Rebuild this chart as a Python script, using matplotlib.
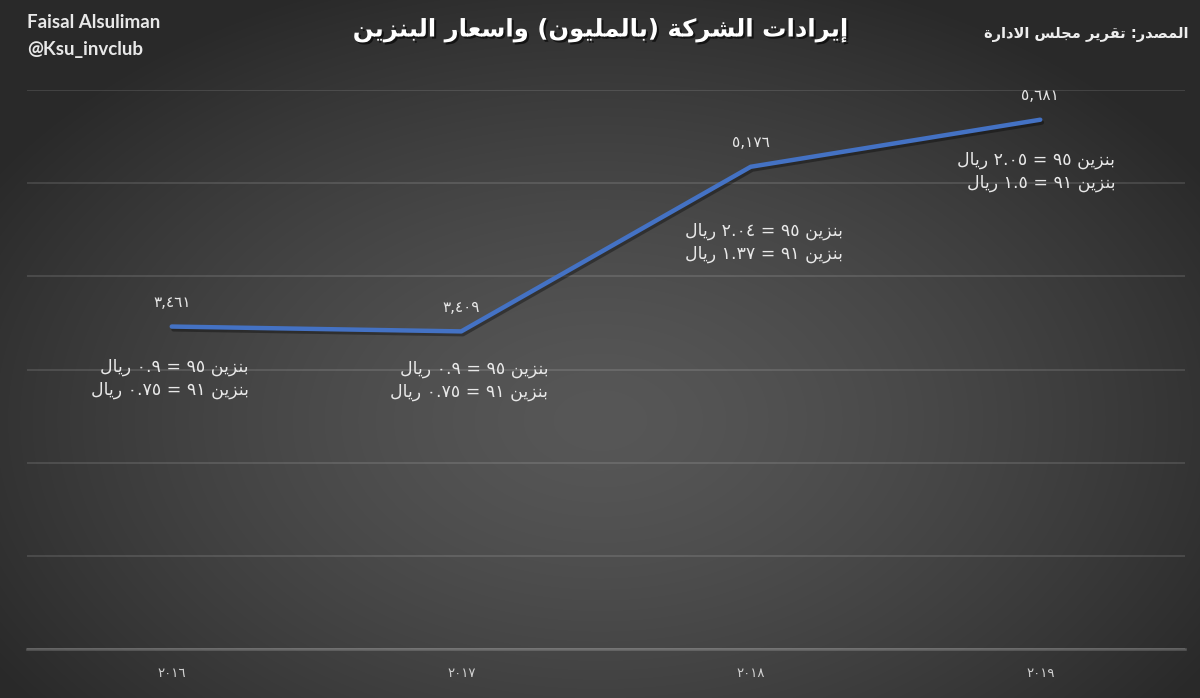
import numpy as np
import matplotlib
matplotlib.use('Agg')
import matplotlib.pyplot as plt
import matplotlib.patheffects as pe

# ---------------- data ----------------
years = ['٢٠١٦', '٢٠١٧', '٢٠١٨', '٢٠١٩']
revenue = [3461, 3409, 5176, 5681]
revenue_labels = ['٣,٤٦١', '٣,٤٠٩', '٥,١٧٦', '٥,٦٨١']
petrol95 = ['٠.٩', '٠.٩', '٢.٠٤', '٢.٠٥']
petrol91 = ['٠.٧٥', '٠.٧٥', '١.٣٧', '١.٥']
title = 'إيرادات الشركة (بالمليون) واسعار البنزين'
source = 'المصدر: تقرير مجلس الادارة'
author = ['Faisal Alsuliman', '@Ksu_invclub']

# ---------------- minimal Arabic shaping + RTL ordering ----------------
FORMS = {
    'ا': ('\uFE8D', '\uFE8E', None, None),
    'إ': ('\uFE87', '\uFE88', None, None),
    'ب': ('\uFE8F', '\uFE90', '\uFE91', '\uFE92'),
    'ة': ('\uFE93', '\uFE94', None, None),
    'ت': ('\uFE95', '\uFE96', '\uFE97', '\uFE98'),
    'ج': ('\uFE9D', '\uFE9E', '\uFE9F', '\uFEA0'),
    'د': ('\uFEA9', '\uFEAA', None, None),
    'ر': ('\uFEAD', '\uFEAE', None, None),
    'ز': ('\uFEAF', '\uFEB0', None, None),
    'س': ('\uFEB1', '\uFEB2', '\uFEB3', '\uFEB4'),
    'ش': ('\uFEB5', '\uFEB6', '\uFEB7', '\uFEB8'),
    'ص': ('\uFEB9', '\uFEBA', '\uFEBB', '\uFEBC'),
    'ع': ('\uFEC9', '\uFECA', '\uFECB', '\uFECC'),
    'ق': ('\uFED5', '\uFED6', '\uFED7', '\uFED8'),
    'ك': ('\uFED9', '\uFEDA', '\uFEDB', '\uFEDC'),
    'ل': ('\uFEDD', '\uFEDE', '\uFEDF', '\uFEE0'),
    'م': ('\uFEE1', '\uFEE2', '\uFEE3', '\uFEE4'),
    'ن': ('\uFEE5', '\uFEE6', '\uFEE7', '\uFEE8'),
    'و': ('\uFEED', '\uFEEE', None, None),
    'ي': ('\uFEF1', '\uFEF2', '\uFEF3', '\uFEF4'),
    'لا': ('\uFEFB', '\uFEFC', None, None),
}
MIRROR = {'(': ')', ')': '('}


def shape(word):
    units, i = [], 0
    while i < len(word):
        if word[i] == 'ل' and i + 1 < len(word) and word[i + 1] == 'ا':
            units.append('لا'); i += 2
        else:
            units.append(word[i]); i += 1
    out = []
    for k, u in enumerate(units):
        if u not in FORMS:
            out.append(u); continue
        prev = units[k - 1] if k > 0 else None
        nxt = units[k + 1] if k + 1 < len(units) else None
        jp = prev in FORMS and FORMS[prev][2] is not None
        jn = nxt in FORMS and FORMS[u][2] is not None
        iso, fin, ini, med = FORMS[u]
        out.append(med if (jp and jn) else fin if jp else ini if jn else iso)
    return out


def visual(text):
    res = []
    for tok in reversed(text.split(' ')):
        if any(c in FORMS for c in tok):
            res.append(''.join(MIRROR.get(g, g) for g in reversed(shape(tok))))
        else:
            res.append(tok)
    return ' '.join(res)


# ---------------- figure ----------------
W, H = 1200, 698
fig = plt.figure(figsize=(W / 100, H / 100), dpi=100)

# radial dark-grey background
yy, xx = np.mgrid[0:H, 0:W]
r = np.sqrt(((xx - 600) / 720.0) ** 2 + ((yy - 420) / 470.0) ** 2)
r = np.clip(r, 0, 1)
v = (0x57 - (0x57 - 0x29) * r ** 1.4) / 255.0
bg = fig.add_axes([0, 0, 1, 1], zorder=0)
bg.imshow(np.dstack([v, v, v]), extent=[0, 1, 0, 1], aspect='auto', origin='upper')
bg.axis('off')

ax = fig.add_axes([27 / W, 1 - 649 / H, 1158 / W, (649 - 90) / H], zorder=1)
ax.patch.set_alpha(0)
x = np.arange(len(years))
ax.set_xlim(-0.5, len(years) - 0.5)
ax.set_ylim(0, 6000)
ax.set_yticks(np.arange(0, 6001, 1000))
ax.yaxis.grid(True, color='white', alpha=0.14, lw=1.2)
ax.set_axisbelow(True)
for s in ['top', 'right', 'left']:
    ax.spines[s].set_visible(False)
ax.spines['bottom'].set_color((1, 1, 1, 0.22))
ax.spines['bottom'].set_linewidth(1.8)
ax.tick_params(axis='y', left=False, labelleft=False)
ax.tick_params(axis='x', length=0, pad=13)
ax.set_xticks(x)
ax.set_xticklabels(years, fontsize=9.5, color='#d0d0d0', family='DejaVu Sans')

ax.plot(x, revenue, color='#4472C4', lw=3.2, solid_capstyle='round', solid_joinstyle='round',
        path_effects=[pe.SimpleLineShadow(offset=(1.2, -2.0), shadow_color='black', alpha=0.35),
                      pe.Normal()], zorder=3)

for xi, yv, lab in zip(x, revenue, revenue_labels):
    ax.annotate(lab, (xi, yv), xytext=(0, 24), textcoords='offset pixels',
                ha='center', va='center', fontsize=11, color='#e6e6e6')

# price annotations (right edge offset, first-line offset) in pixels
ann_offsets = [(77, -40), (87, -38), (92, -64), (75, -40)]
for xi, yv, p95, p91, (dx, dy) in zip(x, revenue, petrol95, petrol91, ann_offsets):
    l1 = visual(f'بنزين ٩٥ = {p95} ريال')
    l2 = visual(f'بنزين ٩١ = {p91} ريال')
    ax.annotate(l1, (xi, yv), xytext=(dx, dy), textcoords='offset pixels',
                ha='right', va='center', fontsize=12.5, color='#e8e8e8')
    ax.annotate(l2, (xi, yv), xytext=(dx, dy - 23), textcoords='offset pixels',
                ha='right', va='center', fontsize=12.5, color='#e8e8e8')

# titles
fig.text(0.5, 1 - 30 / H, visual(title), ha='center', va='center', fontsize=17.5,
         fontweight='bold', color='white',
         path_effects=[pe.withSimplePatchShadow(offset=(1.5, -1.5), shadow_rgbFace='black', alpha=0.6)])
fig.text(1 - 12 / W, 1 - 34 / H, visual(source), ha='right', va='center', fontsize=10.5,
         fontweight='bold', color='#eeeeee')
fig.text(27 / W, 1 - 22 / H, author[0], ha='left', va='center', fontsize=13.5,
         fontweight='bold', color='#e8e8e8', family='Lato')
fig.text(27 / W, 1 - 50 / H, author[1], ha='left', va='center', fontsize=13.5,
         fontweight='bold', color='#e8e8e8', family='Lato')

fig.savefig('out.png', dpi=100)
